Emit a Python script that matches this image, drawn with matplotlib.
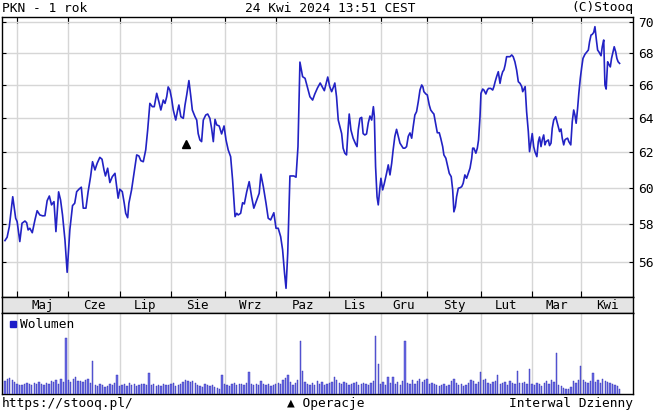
import matplotlib
matplotlib.use("Agg")
import matplotlib.pyplot as plt
from matplotlib.ticker import NullLocator

# PKN - kurs (wierzcholki linii: numer sesji, cena)
sesje = [0.0, 0.9, 1.8, 3.2, 4.4, 5.0, 6.1, 7.0, 8.2, 8.9, 9.5, 10.2, 11.2, 12.3, 13.2, 14.3,
         15.5, 16.4, 17.3, 18.2, 19.1, 20.1, 20.9, 22.0, 22.8, 23.6, 24.6, 25.5, 26.6, 27.7,
         28.6, 29.4, 30.5, 31.3, 32.1, 33.2, 34.1, 35.1, 35.9, 36.9, 37.8, 38.9, 39.8, 40.6,
         41.2, 42.1, 43.0, 44.0, 45.1, 45.8, 46.4, 47.1, 48.1, 48.9, 49.5, 50.3, 50.8, 51.9,
         53.0, 54.0, 54.9, 55.7, 56.7, 57.7, 58.5, 59.4, 60.4, 61.2, 62.2, 63.1, 63.9, 64.9,
         65.6, 66.3, 66.9, 67.6, 68.3, 69.0, 70.0, 70.8, 71.3, 72.1, 73.1, 73.8, 74.5, 75.4,
         76.2, 76.8, 77.9, 78.6, 79.2, 79.9, 80.6, 81.3, 82.3, 83.1, 84.0, 84.7, 85.4, 86.1,
         86.8, 87.8, 88.8, 89.8, 90.6, 91.5, 92.5, 93.3, 94.3, 95.0, 95.6, 96.6, 97.4, 98.1,
         99.1, 100.1, 101.1, 102.0, 103.2, 104.2, 104.9, 105.9, 107.0, 107.9, 108.9, 110.2,
         111.1, 112.0, 113.0, 113.8, 114.6, 115.2, 115.9, 116.8, 117.5, 118.4, 119.3, 120.1,
         120.9, 122.0, 123.0, 123.9, 125.0, 126.1, 127.0, 128.1, 129.2, 130.0, 130.9, 131.7,
         132.3, 133.1, 133.9, 134.7, 135.2, 135.9, 136.6, 137.3, 138.0, 138.6, 139.3, 140.0,
         140.7, 141.1, 141.8, 142.7, 143.7, 144.3, 144.8, 145.5, 146.2, 146.8, 147.5, 148.2,
         148.9, 149.6, 150.3, 151.0, 151.4, 151.9, 152.5, 153.0, 153.7, 154.1, 154.8, 155.5,
         156.4, 157.1, 157.8, 158.5, 159.1, 159.8, 160.5, 161.2, 161.9, 162.6, 163.2, 163.9,
         164.6, 165.3, 166.0, 166.7, 167.3, 168.0, 168.7, 169.4, 170.1, 170.8, 171.3, 171.7,
         172.5, 173.1, 173.9, 174.5, 175.3, 175.8, 176.6, 177.2, 178.0, 178.6, 179.4, 179.9,
         180.7, 181.3, 182.1, 182.9, 183.5, 184.0, 184.6, 185.1, 185.8, 186.5, 187.2, 187.8,
         188.5, 189.2, 189.9, 190.6, 191.3, 191.7, 192.2, 193.0, 193.6, 194.1, 194.7, 195.1,
         195.8, 196.3, 197.1, 197.7, 198.2, 199.1, 199.9, 200.4, 200.9, 201.5, 202.2, 202.9,
         203.4, 204.0, 204.5, 205.0, 205.6, 206.3, 207.0, 207.7, 208.3, 209.0, 209.7, 210.4,
         211.1, 211.8, 212.2, 212.7, 213.2, 213.8, 214.5, 215.0, 215.6, 216.1, 216.7, 217.2,
         218.0, 218.6, 219.1, 219.7, 220.2, 220.8, 221.3, 221.8, 222.7, 223.2, 223.8, 224.3,
         224.9, 225.7, 226.5, 227.3, 227.9, 228.4, 229.0, 229.5, 230.0, 230.6, 231.1, 231.9,
         232.5, 233.1, 233.6, 234.1, 234.7, 235.2, 235.8, 236.4, 236.9, 237.7, 238.5, 239.1,
         239.6, 240.2, 240.7, 241.3, 241.8, 242.4, 242.9, 243.4, 244.3, 244.8, 245.4, 245.9,
         246.4, 247.0, 247.5, 248.1, 248.6, 249.2, 249.7, 250.3, 250.8, 251.3, 251.9]
kurs = [57.12, 57.30, 57.87, 59.50, 58.32, 58.14, 57.07, 58.05, 58.17, 58.08, 57.69, 57.78, 57.54,
        58.23, 58.73, 58.50, 58.45, 58.46, 59.28, 59.54, 59.05, 59.23, 57.60, 59.77, 59.32, 58.50,
        57.16, 55.46, 57.69, 59.01, 59.14, 59.78, 59.94, 60.03, 58.87, 58.87, 59.78, 60.62, 61.47,
        61.00, 61.38, 61.72, 61.61, 61.00, 60.66, 61.10, 60.29, 60.62, 60.81, 60.06, 59.42, 59.92,
        59.78, 59.14, 58.59, 58.35, 59.14, 59.88, 60.90, 61.86, 61.80, 61.53, 61.47, 62.15, 63.31,
        64.90, 64.70, 64.70, 65.51, 65.00, 64.50, 65.10, 64.90, 65.30, 65.90, 65.71, 65.20, 64.50,
        63.90, 64.50, 64.80, 64.10, 64.00, 64.80, 65.41, 66.29, 65.30, 64.50, 64.10, 63.90, 63.10,
        62.73, 62.63, 63.90, 64.20, 64.26, 64.00, 63.41, 62.63, 63.94, 63.61, 63.55, 63.08, 63.55,
        62.73, 62.15, 61.76, 60.44, 58.41, 58.59, 58.50, 58.59, 59.17, 59.10, 59.78, 60.34, 59.50,
        58.87, 59.32, 59.69, 60.76, 60.06, 59.14, 58.32, 58.23, 58.62, 57.78, 57.78, 57.33, 56.63,
        55.40, 54.64, 56.46, 60.66, 60.66, 60.66, 60.59, 62.34, 67.44, 66.53, 66.43, 65.92, 65.30,
        65.10, 65.47, 65.84, 66.14, 65.92, 65.67, 66.16, 66.51, 65.92, 65.61, 65.92, 66.14, 65.30,
        63.90, 63.49, 63.10, 62.25, 61.96, 61.86, 63.49, 64.26, 63.31, 62.83, 62.50, 62.34, 63.31,
        64.00, 64.06, 63.10, 63.02, 63.08, 63.73, 64.14, 63.90, 64.70, 64.10, 61.19, 59.50, 59.05,
        60.05, 60.53, 59.88, 60.25, 60.81, 61.29, 60.72, 61.38, 62.15, 62.94, 63.35, 62.94, 62.54,
        62.38, 62.25, 62.25, 62.34, 62.94, 63.14, 62.83, 63.49, 64.20, 64.40, 65.00, 65.71, 66.02,
        65.90, 65.61, 65.47, 65.41, 64.80, 64.50, 64.34, 64.26, 63.61, 63.15, 63.15, 62.83, 62.34,
        61.86, 61.67, 61.29, 60.81, 60.62, 59.88, 58.67, 58.95, 59.50, 59.97, 60.00, 60.06, 60.25,
        60.72, 60.53, 60.81, 61.10, 61.67, 62.25, 62.25, 61.96, 62.25, 62.73, 64.10, 65.51, 65.77,
        65.71, 65.47, 65.71, 65.81, 65.81, 65.71, 65.92, 66.22, 66.53, 66.84, 66.12, 66.53, 66.84,
        66.95, 67.26, 67.78, 67.78, 67.78, 67.89, 67.78, 67.46, 66.95, 66.22, 66.12, 65.92, 65.61,
        65.77, 65.92, 64.40, 63.22, 62.05, 62.63, 63.10, 62.34, 62.05, 61.76, 62.63, 62.90, 62.34,
        62.73, 63.02, 62.44, 62.63, 62.73, 62.40, 62.54, 63.41, 63.90, 64.10, 63.65, 63.22, 63.37,
        62.83, 62.44, 62.73, 62.79, 62.83, 62.63, 62.44, 63.80, 64.50, 64.20, 63.71, 64.60, 65.51,
        66.43, 67.14, 67.67, 67.93, 68.09, 68.20, 68.73, 69.16, 69.20, 69.33, 69.70, 68.84, 68.20,
        68.09, 67.84, 68.41, 68.84, 66.02, 65.77, 67.46, 67.30, 67.14, 67.67, 68.09, 68.41, 68.09,
        67.67, 67.46, 67.36]

# wolumen dzienny (mln szt.), jedna wartosc na sesje
wolumen = [3.2, 3.8, 4.0, 3.5, 3.0,
           2.5, 2.2, 2.2, 2.5, 2.8, 2.5, 2.2,
           2.8, 2.5, 3.0, 2.5, 2.2, 2.8, 2.5, 3.2, 3.0, 3.5, 2.5, 3.8, 3.0,
           14.0,
           3.5, 3.0, 3.8, 4.2, 3.2, 3.2, 3.0, 3.5, 3.8, 2.8,
           8.2,
           2.2, 2.0, 2.5, 2.2, 1.8, 2.0, 2.5, 2.2, 2.8,
           4.8,
           2.0, 2.2, 2.5, 2.0, 2.8, 2.2, 2.5, 2.0, 2.2, 2.5, 2.5, 2.2,
           5.2,
           2.2, 2.5, 2.0, 2.2, 2.0, 2.5, 2.2, 2.2, 2.5, 2.8, 2.0, 2.2, 2.5,
           3.0, 3.5, 3.2, 3.0, 3.2, 2.8,
           2.2, 2.0, 1.8, 2.5, 2.2, 2.0, 2.2, 1.8, 1.5, 1.2,
           4.8,
           2.5, 2.2, 2.0, 2.5, 2.8, 2.2, 2.5, 2.5, 2.2, 2.8,
           5.5,
           2.5, 2.2, 2.5, 2.2, 3.2, 2.5, 2.2, 2.5, 2.0, 2.2, 2.5, 2.8, 2.5, 3.5, 4.0,
           4.8,
           3.0, 2.2, 2.8, 3.5,
           13.2,
           5.8,
           3.0, 2.5, 2.2, 2.8, 2.2, 3.2, 2.5, 3.0, 2.2,
           2.5, 2.8, 3.0, 4.2, 3.5, 2.8, 2.5, 3.0, 2.8,
           2.2, 2.5, 2.8, 3.0, 2.2, 2.5, 2.8, 2.5, 2.2, 2.8, 3.2,
           14.5,
           7.5,
           2.5, 3.0, 2.2, 4.2, 2.8, 4.2, 2.5, 3.0, 2.2, 3.2,
           13.2,
           2.8, 2.5, 3.5, 2.5, 3.2, 3.8, 3.0, 3.5, 3.8, 2.5, 2.8,
           2.5, 2.2, 2.0, 2.2, 2.5, 2.0, 2.2, 3.2, 3.8, 2.8, 2.2, 2.5, 2.0, 2.2, 2.8, 3.5, 3.2, 2.5, 3.0,
           5.5,
           3.5, 3.8, 2.8, 2.5, 3.0, 3.2,
           4.8,
           2.5, 2.8, 3.0, 2.2, 3.2, 2.8, 2.5,
           5.8,
           2.8, 2.8, 3.0, 2.5,
           6.2,
           2.5, 2.2, 2.8, 2.5, 2.0, 2.8, 3.2, 2.5, 3.5, 3.0,
           10.2,
           2.2, 2.0, 1.5, 1.2, 1.2, 1.8, 3.2, 2.8, 3.5,
           7.0,
           3.5, 3.0, 2.8, 3.2,
           5.2,
           3.0, 3.5, 2.8, 3.8, 3.2, 3.0, 2.8, 2.5, 2.2, 2.0, 1.2]

miesiace = ["Maj", "Cze", "Lip", "Sie", "Wrz", "Paz", "Lis", "Gru", "Sty", "Lut", "Mar", "Kwi"]
poczatki_miesiecy = [5, 26, 47, 68, 90, 111, 133, 154, 173, 195, 216, 236]
ceny_os = [56, 58, 60, 62, 64, 66, 68, 70]

# operacja (dywidenda) zaznaczona trojkatem
operacja_sesja = [74.2]
operacja_cena = [62.5]

W, H = 654, 413
font = "DejaVu Sans Mono"
x0, x1 = -1.2, 257.4
siatka = "#d6d6d6"

fig = plt.figure(figsize=(W / 100, H / 100), dpi=100)

# wykres ceny
ax = fig.add_axes([2 / W, 1 - 297 / H, 631 / W, 280 / H])
ax.plot(sesje, kurs, color="#2222c4", lw=1.2, zorder=3)
ax.plot(operacja_sesja, operacja_cena, marker="^", color="black", ms=6, ls="none", zorder=4)
ax.set_yscale("log")
ax.set_ylim(54.2, 70.33)
ax.set_xlim(x0, x1)
ax.set_yticks(ceny_os)
ax.set_yticklabels([str(c) for c in ceny_os], fontfamily=font, fontsize=9.3)
ax.yaxis.set_minor_locator(NullLocator())
ax.yaxis.tick_right()
ax.tick_params(axis="y", which="both", direction="in", length=3, left=True, right=True,
               labelleft=False, labelright=True, pad=4)
ax.set_xticks(poczatki_miesiecy)
ax.tick_params(axis="x", direction="in", length=4, top=True, bottom=True, labelbottom=False)
ax.grid(color=siatka, lw=1, zorder=0)
for s in ax.spines.values():
    s.set_linewidth(1.0)

# pasek z miesiacami
ax_m = fig.add_axes([2 / W, 1 - 313 / H, 631 / W, 16 / H])
ax_m.set_facecolor("#e4e4e4")
ax_m.set_xlim(x0, x1)
ax_m.set_ylim(0, 1)
ax_m.set_xticks([])
ax_m.set_yticks([])
granice = poczatki_miesiecy + [x1]
for i, m in enumerate(miesiace):
    ax_m.text((granice[i] + granice[i + 1]) / 2, 0.45, m, ha="center", va="center",
              fontfamily=font, fontsize=9)
for s in ax_m.spines.values():
    s.set_linewidth(1.0)

# wolumen
ax_v = fig.add_axes([2 / W, 1 - 394 / H, 631 / W, 81 / H])
ax_v.bar(range(len(wolumen)), wolumen, width=0.55, color="#6c6ce4", edgecolor="#2c2cb4",
         lw=0.3, zorder=3)
ax_v.set_xlim(x0, x1)
ax_v.set_ylim(0, max(wolumen) * 1.4)
ax_v.set_xticks(poczatki_miesiecy)
ax_v.set_yticks([])
ax_v.tick_params(axis="x", length=0, labelbottom=False)
ax_v.grid(axis="x", color=siatka, lw=1, zorder=0)
ax_v.plot([0.0174], [0.864], marker="s", ms=5, color="#1c1cc8", transform=ax_v.transAxes)
ax_v.text(0.0285, 0.864, "Wolumen", transform=ax_v.transAxes, ha="left", va="center",
          fontfamily=font, fontsize=9.3)
for s in ax_v.spines.values():
    s.set_linewidth(1.0)

# naglowek i stopka
fig.text(2 / W, 1 - 8 / H, "PKN - 1 rok", ha="left", va="center", fontfamily=font, fontsize=9.3)
fig.text(330 / W, 1 - 8 / H, "24 Kwi 2024 13:51 CEST", ha="center", va="center",
         fontfamily=font, fontsize=9.3)
fig.text(633 / W, 1 - 8 / H, "(C)Stooq", ha="right", va="center", fontfamily=font, fontsize=9.3)
fig.text(2 / W, 1 - 404 / H, "https://stooq.pl/", ha="left", va="center", fontfamily=font,
         fontsize=9.3)
fig.text(326 / W, 1 - 404 / H, "▲ Operacje", ha="center", va="center", fontfamily=font,
         fontsize=9.3)
fig.text(633 / W, 1 - 404 / H, "Interwal Dzienny", ha="right", va="center", fontfamily=font,
         fontsize=9.3)

fig.savefig("out.png", dpi=100)
